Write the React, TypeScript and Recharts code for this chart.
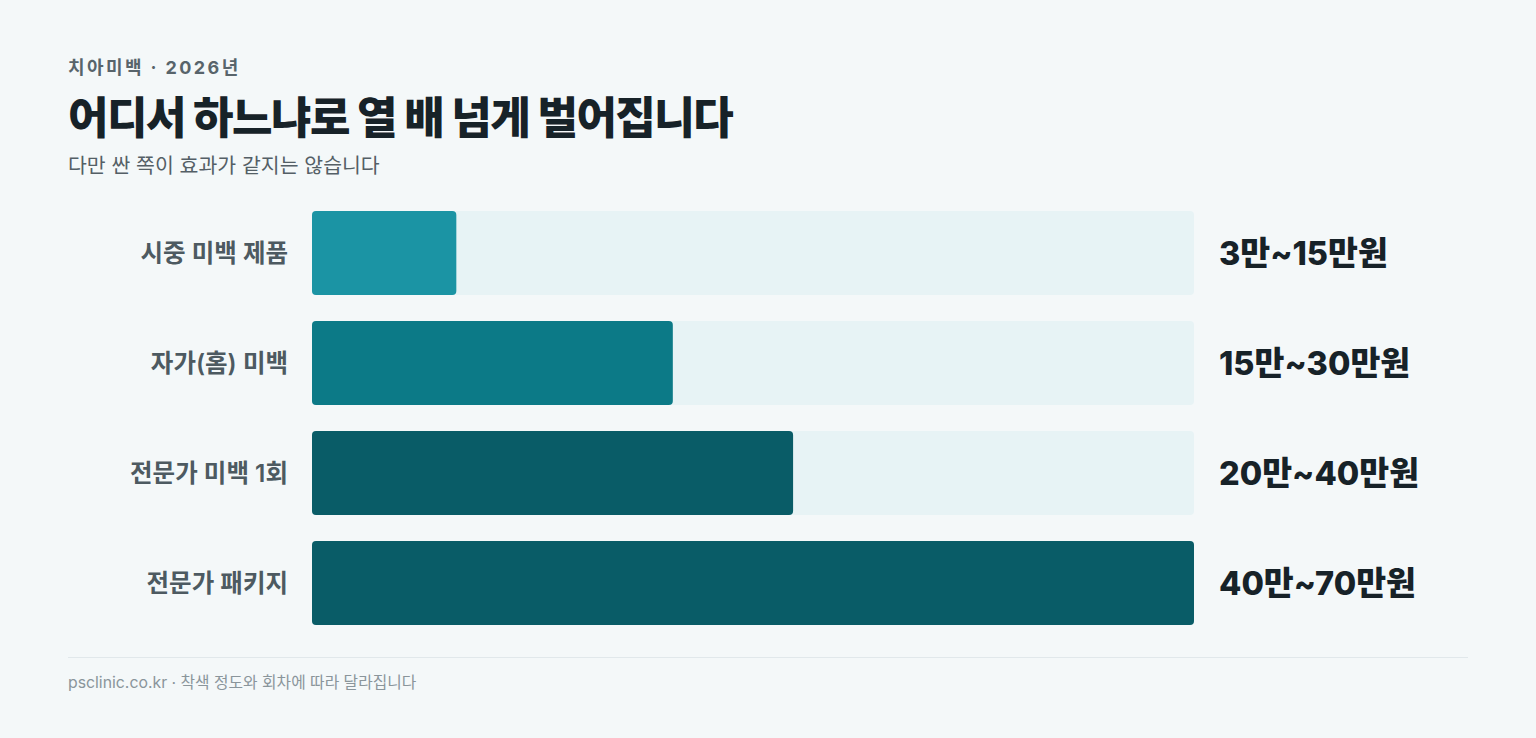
import { Bar, BarChart, Cell, XAxis, YAxis } from "recharts"

const categories = ["시중 미백 제품", "자가(홈) 미백", "전문가 미백 1회", "전문가 패키지"]
const priceRanges = ["3만~15만원", "15만~30만원", "20만~40만원", "40만~70만원"]
// midpoint of each range, in 만원
const midpoints = [9, 22.5, 30, 55]
const barColors = ["#1b94a4", "#0c7a87", "#095c67", "#095c67"]

const FONT = "Inter, 'Noto Sans CJK KR', sans-serif"

const data = categories.map((name, i) => ({
  name,
  range: priceRanges[i],
  value: midpoints[i],
}))

export default function App() {
  return (
    <div
      style={{
        position: "absolute",
        left: 0,
        top: 0,
        width: 1536,
        height: 738,
        background: "#f4f8f9",
        fontFamily: FONT,
        overflow: "hidden",
      }}
    >
      <div
        style={{
          position: "absolute",
          left: 68,
          top: 59,
          fontSize: 18,
          lineHeight: "18px",
          fontWeight: 700,
          color: "#58646b",
          letterSpacing: 2.4,
        }}
      >
        치아미백 · 2026년
      </div>
      <div
        style={{
          position: "absolute",
          left: 68,
          top: 96,
          fontSize: 44,
          lineHeight: "44px",
          fontWeight: 800,
          color: "#172228",
          letterSpacing: -1.5,
        }}
      >
        어디서 하느냐로 열 배 넘게 벌어집니다
      </div>
      <div
        style={{
          position: "absolute",
          left: 68,
          top: 156,
          fontSize: 20.5,
          lineHeight: "20px",
          color: "#545f66",
        }}
      >
        다만 싼 쪽이 효과가 같지는 않습니다
      </div>

      <div style={{ position: "absolute", left: 0, top: 198 }}>
        <BarChart
          width={1536}
          height={440}
          data={data}
          layout="vertical"
          margin={{ top: 0, right: 0, bottom: 0, left: 0 }}
          barCategoryGap={13}
        >
          <XAxis type="number" domain={[0, 55]} hide />
          <YAxis
            yAxisId="left"
            type="category"
            dataKey="name"
            width={312}
            axisLine={false}
            tickLine={false}
            tickMargin={18}
            tick={{ fill: "#4d5a61", fontSize: 24.5, fontWeight: 600, fontFamily: FONT }}
          />
          <YAxis
            yAxisId="right"
            orientation="right"
            type="category"
            dataKey="range"
            width={342}
            axisLine={false}
            tickLine={false}
            tickMargin={19}
            tick={{ fill: "#172228", fontSize: 32.5, fontWeight: 800, fontFamily: FONT, textAnchor: "start" }}
          />
          <Bar
            yAxisId="left"
            dataKey="value"
            radius={4}
            background={{ fill: "#e7f3f5", radius: 4 }}
            isAnimationActive={false}
          >
            {data.map((d, i) => (
              <Cell key={d.name} fill={barColors[i]} />
            ))}
          </Bar>
        </BarChart>
      </div>

      <div
        style={{
          position: "absolute",
          left: 68,
          top: 657,
          width: 1400,
          height: 1,
          background: "#e1e8eb",
        }}
      />
      <div
        style={{
          position: "absolute",
          left: 68,
          top: 675,
          fontSize: 15.8,
          lineHeight: "16px",
          color: "#8a959b",
        }}
      >
        psclinic.co.kr · 착색 정도와 회차에 따라 달라집니다
      </div>
    </div>
  )
}
